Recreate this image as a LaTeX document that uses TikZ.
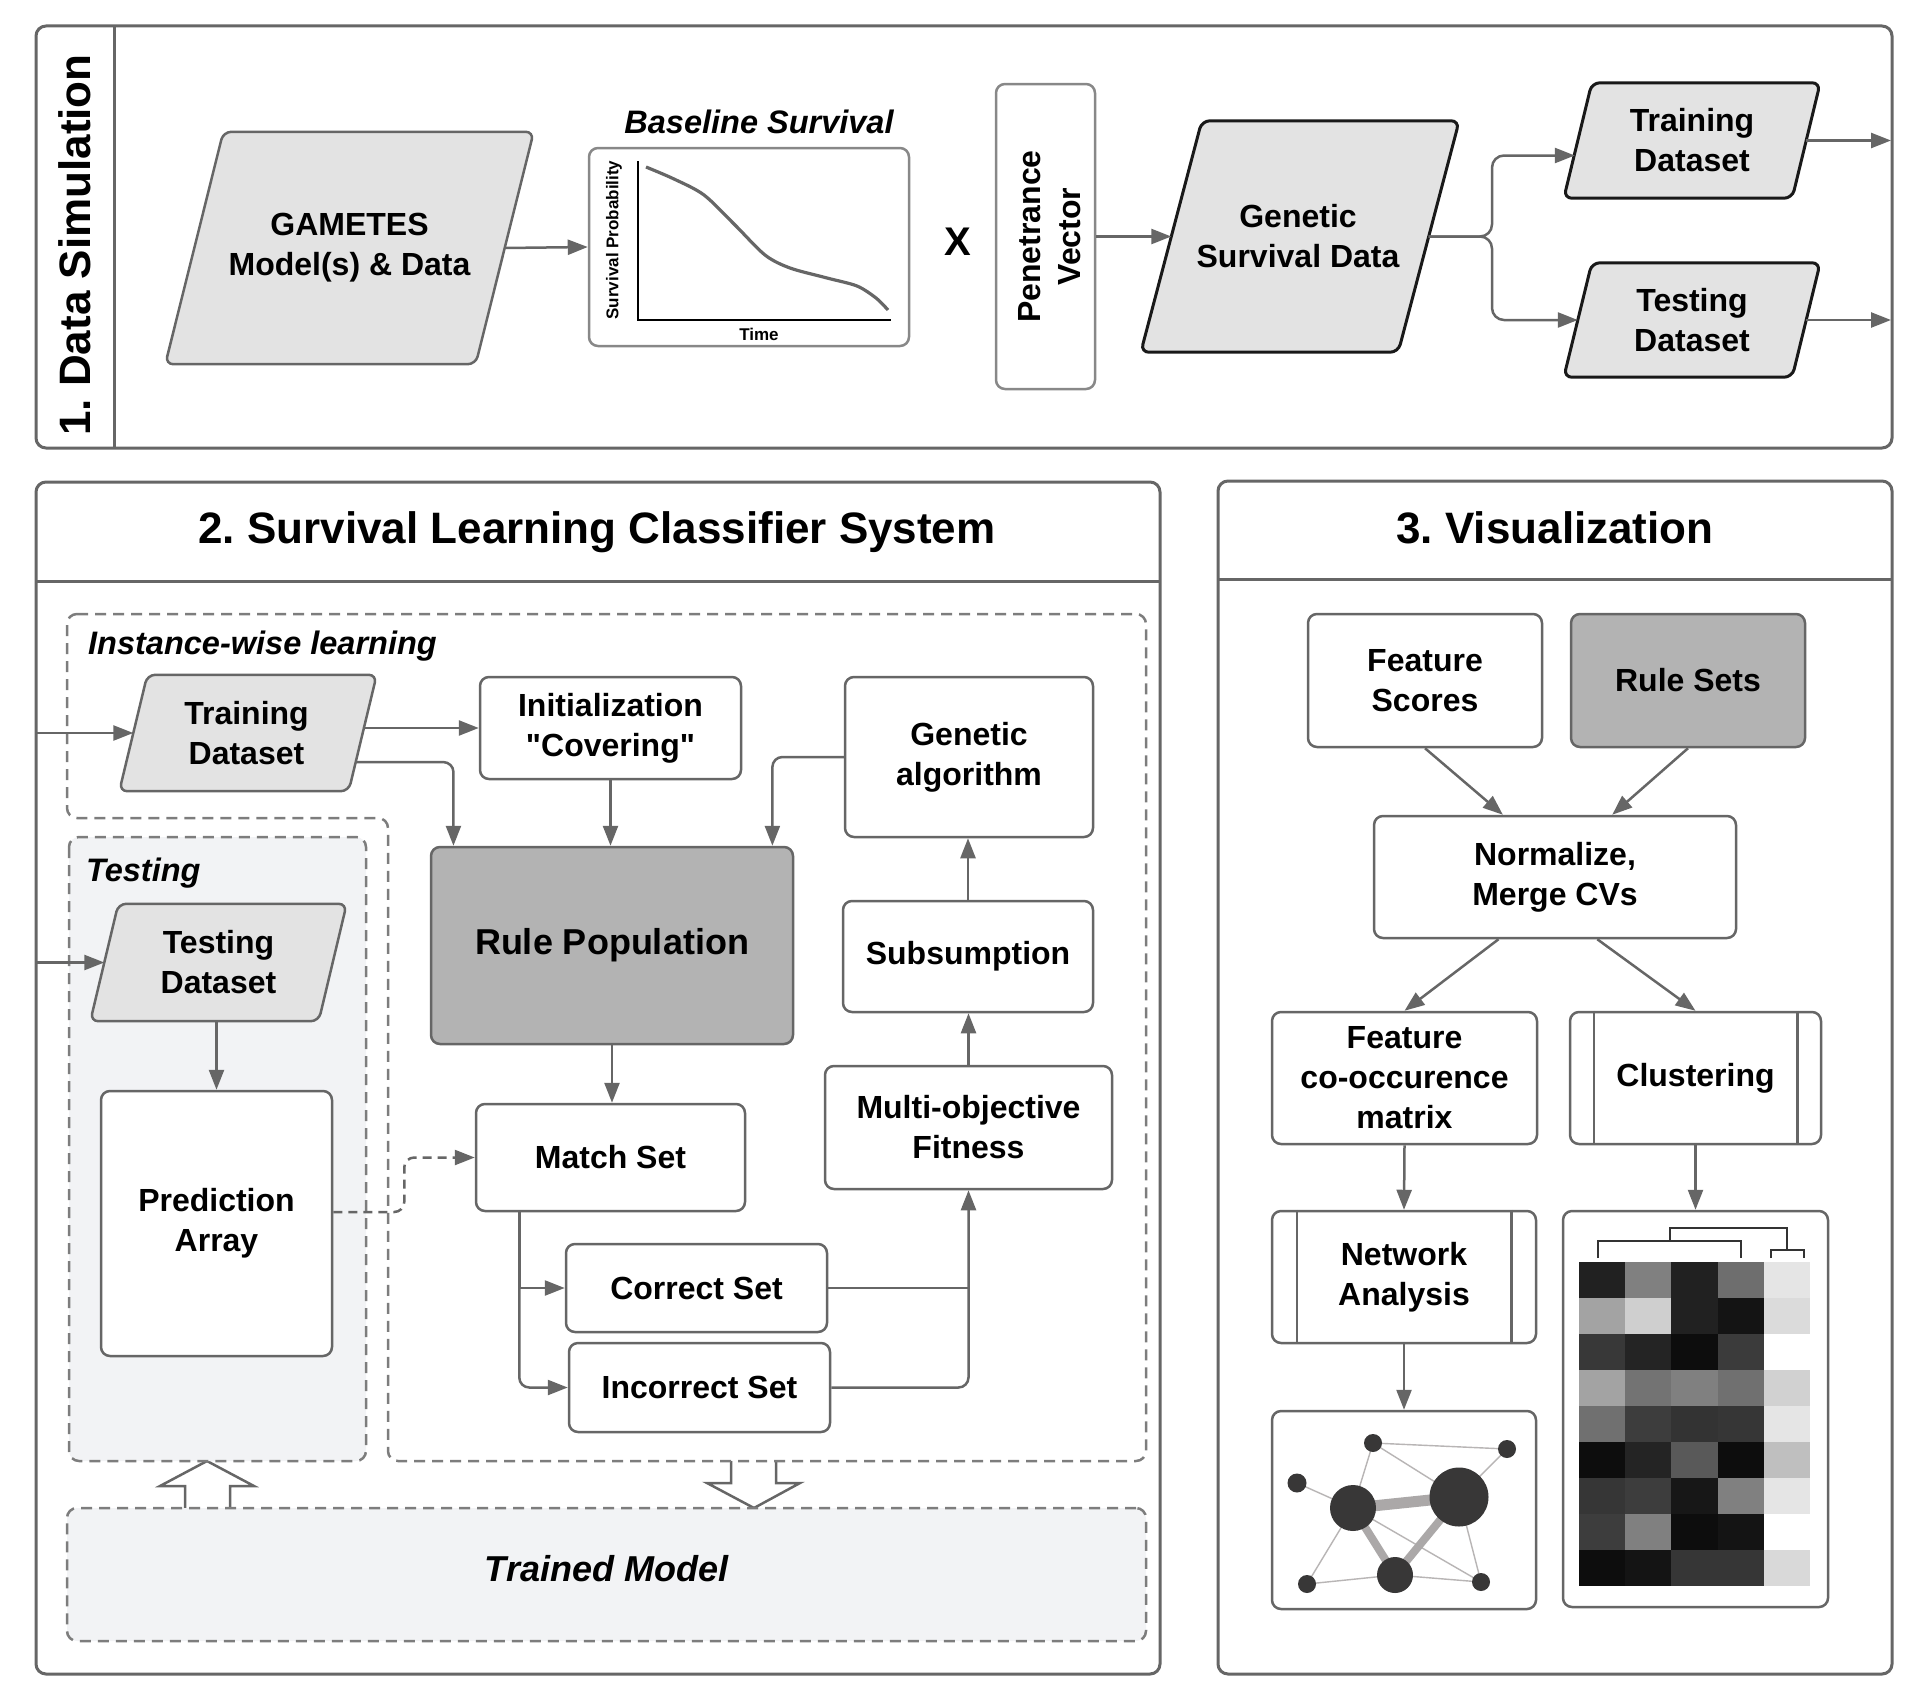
\documentclass[tikz,border=0pt]{standalone}
\usepackage{fontspec}
\setmainfont{Liberation Sans}[Ligatures=TeXOff]
\usepackage{tikz}
\usetikzlibrary{arrows.meta,positioning,calc}
\definecolor{lnGray}{HTML}{666666}
\definecolor{lightLn}{HTML}{888888}
\definecolor{paraFill}{HTML}{E3E3E3}
\definecolor{darkFill}{HTML}{B3B3B3}
\definecolor{paleFill}{HTML}{F2F3F5}
\definecolor{dotGray}{HTML}{383737}
\definecolor{edgeGray}{HTML}{ABA8A8}
\newcommand{\bx}{\fontsize{32}{40}\selectfont\bfseries}
\newcommand{\bigbx}{\fontsize{36}{44}\selectfont\bfseries}
\newcommand{\ttl}{\fontsize{44}{52}\selectfont\bfseries}
\newcommand{\itb}{\fontsize{32.5}{40}\selectfont\bfseries\itshape}
\newcommand{\bigit}{\fontsize{36}{44}\selectfont\bfseries\itshape}
\newcommand{\axisfont}{\fontsize{17}{20}\selectfont\bfseries}
% slanted outline around an (invisible) anchor node: [opts]{node}{half slant}
\newcommand{\paraoutline}[3][]{%
  \draw[para,#1] ([xshift=#3]#2.north west) -- ([xshift=#3]#2.north east)
    -- ([xshift=-#3]#2.south east) -- ([xshift=-#3]#2.south west) -- cycle;}

\begin{document}
\frenchspacing
\begin{tikzpicture}[x=1pt, y=-1pt,
  secframe/.style={draw=lnGray, line width=3pt, rounded corners=10pt},
  box/.style={draw=lnGray, line width=2.5pt, rounded corners=9pt, fill=white, align=center, font=\bx, inner sep=2pt},
  holder/.style={rectangle, inner sep=0pt},
  para/.style={draw=lnGray, line width=2.5pt, fill=paraFill, rounded corners=8pt},
  paratxt/.style={inner sep=0pt, align=center, font=\bx},
  zone/.style={draw=lnGray!85, line width=2.5pt, dash pattern=on 11pt off 7pt, rounded corners=10pt},
  arr/.style={-{Triangle[length=20pt,width=15pt]}, draw=lnGray, line width=2.5pt},
  link/.style={draw=lnGray, line width=2.5pt},
  fat/.style={draw=lnGray, line width=2.5pt, fill=white, line join=miter},
  dot/.style={circle, fill=dotGray, inner sep=0pt},
  thin edge/.style={draw=edgeGray!85, line width=1.4pt},
  thick edge/.style={draw=edgeGray, line width=#1},
  tree/.style={draw=black!80, line width=1.6pt},
  lbl/.style={inner sep=0pt}
]
\useasboundingbox (0,0) rectangle (1918,1702);

% 1. data simulation
\draw[secframe] (36,26) rectangle (1892,448);
\draw[secframe, rounded corners=0pt] (114,26) -- (114,448);
\node[lbl, rotate=90, font=\ttl] (t1) at (75,245) {1. Data Simulation};

\node[holder, minimum width=310pt, minimum height=232pt] (gam) at (349.5,248) {};
\paraoutline{gam}{29pt}
\node[paratxt] (gamt) at (gam) {GAMETES\\Model(s) \& Data};

\node[box, draw=lightLn, minimum width=320pt, minimum height=198pt] (sv) at (749,247) {};
\node[lbl, font=\itb] (svt) at (759,122) {Baseline Survival};
\draw[line width=2.8pt, black] (638,161) -- (638,320) -- (891,320);
\draw[draw=lnGray, line width=3.2pt] plot[smooth] coordinates {(646,167) (674,179) (704,195) (735,225) (765,255) (790,268) (827,278) (857,286) (876,298) (888,310)};
\node[lbl, font=\axisfont, rotate=90] (svy) at (614,240) {Survival Probability};
\node[lbl, font=\axisfont] (svx) at (759,334) {Time};
\node[lbl, font=\fontsize{40}{48}\selectfont\bfseries] (times) at (958,242) {X};

\node[box, draw=lightLn, minimum width=99pt, minimum height=305pt] (pen) at (1045.5,236.5) {};
\node[lbl, rotate=90, font=\bx, align=center] (pent) at (1050,236.5) {Penetrance\\Vector};

\node[holder, minimum width=257pt, minimum height=231pt] (gsd) at (1300,236.5) {};
\paraoutline[draw=black!90, line width=3pt]{gsd}{30.5pt}
\node[paratxt] (gsdt) at (1298,236.5) {Genetic\\Survival Data};

\node[holder, minimum width=228pt, minimum height=115pt] (tr1) at (1692,140.5) {};
\paraoutline[draw=black!90, line width=3pt]{tr1}{14pt}
\node[paratxt] (tr1t) at (tr1) {Training\\Dataset};

\node[holder, minimum width=228pt, minimum height=114pt] (te1) at (1692,320) {};
\paraoutline[draw=black!90, line width=3pt]{te1}{14pt}
\node[paratxt] (te1t) at (te1) {Testing\\Dataset};

\coordinate (fork) at (1492,236.5);
\coordinate (out1) at (1891,140.5);
\coordinate (out2) at (1891,320);

\draw[arr] (gam.east) -- (sv.west);
\draw[arr] (pen.east) -- (gsd.west);
\draw[arr, rounded corners=12pt] (gsd.east) -- (fork) |- ([xshift=-3pt,yshift=-15pt]tr1.west);
\draw[arr, rounded corners=12pt] (gsd.east) -- (fork) |- (te1.west);
\draw[arr] (tr1.east) -- (out1);
\draw[arr] (te1.east) -- (out2);

% 2. survival LCS
\draw[secframe] (36,482) rectangle (1160,1674);
\draw[secframe, rounded corners=0pt] (36,581) -- (1160,581);
\node[lbl, font=\ttl] (t2) at (597,532) {2. Survival Learning Classifier System};

% hollow arrows
\draw[fat] (185,1508) -- (185,1486) -- (160,1486) -- (207,1461) -- (254,1486) -- (230,1486) -- (230,1508);
\draw[fat] (731,1461) -- (731,1483) -- (707,1483) -- (754,1508) -- (800,1483) -- (776,1483) -- (776,1461);

\draw[zone] (67,614) -- (1146,614) -- (1146,1461) -- (388,1461) -- (388,818) -- (67,818) -- cycle;
\draw[zone, fill=paleFill] (69,837) rectangle (366,1461);
\node[lbl, font=\itb, anchor=west] (lzone) at (88,646) {Instance-wise learning};
\node[lbl, font=\itb, anchor=west] (tzone) at (86,873) {Testing};

\node[holder, minimum width=229pt, minimum height=116pt] (tr2) at (248,733) {};
\paraoutline{tr2}{14pt}
\node[paratxt] (tr2t) at (246.5,733) {Training\\Dataset};

\node[holder, minimum width=228pt, minimum height=117pt] (te2) at (218.5,962.5) {};
\paraoutline{te2}{14pt}
\node[paratxt] (te2t) at (te2) {Testing\\Dataset};

\node[box, minimum width=261pt, minimum height=102pt] (init) at (610.5,728) {Initialization\\"Covering"};
\node[box, minimum width=248pt, minimum height=160pt] (ga) at (969,757) {Genetic\\algorithm};
\node[box, fill=darkFill, minimum width=362pt, minimum height=197pt, font=\bigbx] (rp) at (612,945.5) {Rule Population};
\node[box, minimum width=250pt, minimum height=111pt] (sub) at (968,956.5) {Subsumption};
\node[box, minimum width=287pt, minimum height=123pt] (mof) at (968.5,1127.5) {Multi-objective\\Fitness};
\node[box, minimum width=269pt, minimum height=107pt] (ms) at (610.5,1157.5) {Match Set};
\node[box, minimum width=261pt, minimum height=88pt] (cs) at (696.5,1288) {Correct Set};
\node[box, minimum width=261pt, minimum height=89pt] (is) at (699.5,1387.5) {Incorrect Set};
\node[box, minimum width=231pt, minimum height=265pt] (pa) at (216.5,1223.5) {Prediction\\Array};

\coordinate (in1) at (36,733);
\coordinate (in2) at (36,962.5);
\coordinate (msx) at ($(ms.south west)!0.164!(ms.south east)$);
\draw[arr] (in1) -- (tr2.west);
\draw[arr] (in2) -- (te2.west);
\draw[arr] (tr2.east |- init.west) -- (init.west);
\draw[arr, rounded corners=10pt] ($(tr2.east)!0.5!([xshift=-14pt]tr2.south east)$) -| ($(rp.north west)!0.065!(rp.north east)$);
\draw[arr] (init.south) -- (init.south |- rp.north);
\draw[arr, rounded corners=10pt] (ga.west) -| ($(rp.north west)!0.94!(rp.north east)$);
\draw[arr] (sub.north) -- (sub.north |- ga.south);
\draw[arr] (mof.north) -- (mof.north |- sub.south);
\draw[arr] (rp.south) -- (rp.south |- ms.north);
\draw[arr] (msx) |- (cs.west);
\draw[arr, rounded corners=10pt] (msx) |- (is.west);
\draw[link] (cs.east) -- (cs.east -| mof.south);
\draw[arr, rounded corners=10pt] (is.east) -| (mof.south);
\draw[arr, dash pattern=on 9pt off 6pt, rounded corners=10pt] ([yshift=11.5pt]pa.east) -- ++(71,0) |- (ms.west);
\draw[arr] (te2.south -| pa.north) -- (pa.north);

\node[zone, fill=paleFill, minimum width=1079pt, minimum height=133pt] (tm) at (606.5,1574.5) {};
\node[lbl, font=\bigit] (tmt) at (606.5,1569) {Trained Model};

% 3. visualization
\draw[secframe] (1218,481) rectangle (1892,1674);
\draw[secframe, rounded corners=0pt] (1218,579) -- (1892,579);
\node[lbl, font=\ttl] (t3) at (1555,528) {3. Visualization};

\node[box, minimum width=234pt, minimum height=133pt] (fs) at (1425,680.5) {Feature\\Scores};
\node[box, fill=darkFill, minimum width=234pt, minimum height=133pt] (rs) at (1688,680.5) {Rule Sets};
\node[box, minimum width=362pt, minimum height=122pt] (nm) at (1555,877) {Normalize,\\Merge CVs};
\node[box, minimum width=265pt, minimum height=132pt] (fcm) at (1404.5,1078) {Feature\\co-occurence\\matrix};
\node[box, minimum width=251pt, minimum height=132pt] (cl) at (1695.5,1078) {Clustering};
\node[box, minimum width=264pt, minimum height=132pt] (na) at (1404,1277) {Network\\Analysis};
\node[box, minimum width=264pt, minimum height=198pt] (gr) at (1404,1510) {};
\node[box, minimum width=265pt, minimum height=396pt] (hm) at (1695.5,1409) {};
\draw[link] ([xshift=25pt]cl.north west) -- ([xshift=25pt]cl.south west);
\draw[link] ([xshift=-25pt]cl.north east) -- ([xshift=-25pt]cl.south east);
\draw[link] ([xshift=26pt]na.north west) -- ([xshift=26pt]na.south west);
\draw[link] ([xshift=-26pt]na.north east) -- ([xshift=-26pt]na.south east);

\draw[arr] (fs.south) -- ($(nm.north west)!0.357!(nm.north east)$);
\draw[arr] (rs.south) -- ($(nm.north west)!0.657!(nm.north east)$);
\draw[arr] ($(nm.south west)!0.345!(nm.south east)$) -- (fcm.north);
\draw[arr] ($(nm.south west)!0.616!(nm.south east)$) -- (cl.north);
\draw[arr] (fcm.south) -- (na.north);
\draw[arr] (cl.south) -- (hm.north);
\draw[arr] (na.south) -- (gr.north);

% network sketch
\coordinate (p1) at (1373,1443);
\coordinate (p2) at (1507,1449);
\coordinate (p3) at (1297,1483);
\coordinate (pA) at (1353,1508);
\coordinate (pB) at (1459,1497);
\coordinate (pC) at (1395,1575);
\coordinate (p4) at (1307,1584);
\coordinate (p5) at (1481,1582);
\foreach \a/\b in {p1/p2, p1/pB, p1/pA, p3/pA, p2/pB, pA/p4, p4/pC, pC/p5, pA/p5, pB/p5}
  \draw[thin edge] (\a) -- (\b);
\draw[thick edge=11pt] (pA) -- (pB);
\draw[thick edge=8pt] (pA) -- (pC);
\draw[thick edge=8pt] (pB) -- (pC);
\node[dot, minimum size=18pt] (g1) at (p1) {};
\node[dot, minimum size=18pt] (g2) at (p2) {};
\node[dot, minimum size=19pt] (g3) at (p3) {};
\node[dot, minimum size=46pt] (hubA) at (pA) {};
\node[dot, minimum size=59pt] (hubB) at (pB) {};
\node[dot, minimum size=36pt] (hubC) at (pC) {};
\node[dot, minimum size=18pt] (g4) at (p4) {};
\node[dot, minimum size=18pt] (g5) at (p5) {};

% heatmap with dendrogram
\foreach \row [count=\r] in {{87,50,87,57,10},{36,19,87,92,14},{78,86,95,77,0},{36,55,50,56,18},{56,76,80,79,10},{95,86,65,95,25},{79,76,91,50,10},{76,50,95,92,0},{95,92,79,79,15}} {
  \foreach \d [count=\c] in \row {
    \fill[black!\d] ({1579+(\c-1)*46.2},{1262+(\r-1)*36}) rectangle ++(46.2,36);
  }
}
\draw[tree] (1598,1258) -- (1598,1241) -- (1741,1241) -- (1741,1258);
\draw[tree] (1771,1258) -- (1771,1250) -- (1804,1250) -- (1804,1258);
\draw[tree] (1670,1241) -- (1670,1228) -- (1787,1228) -- (1787,1250);
\end{tikzpicture}
\end{document}
